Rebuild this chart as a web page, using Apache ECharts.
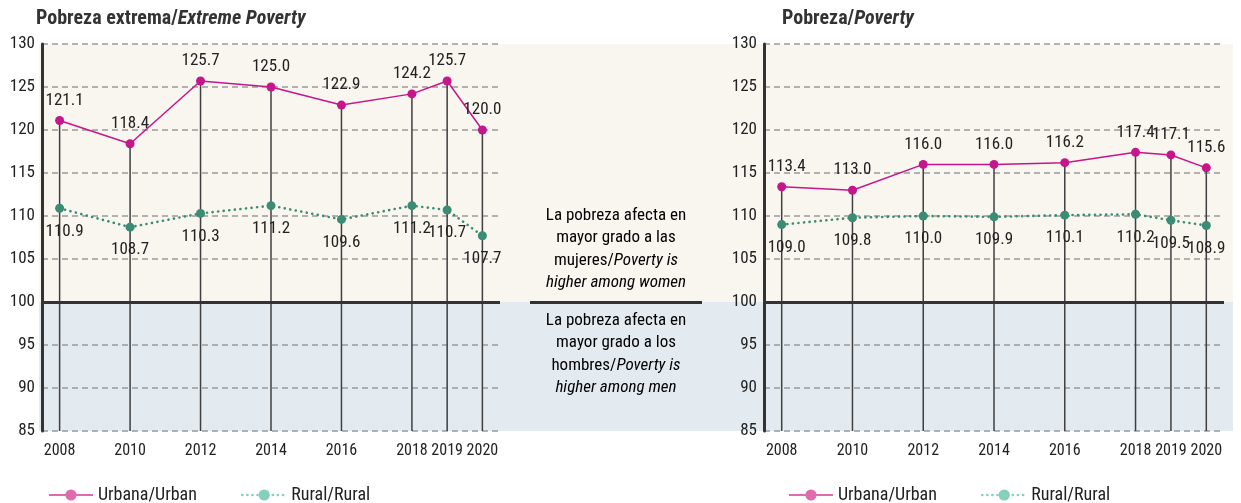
<!DOCTYPE html>
<html>
<head>
<meta charset="utf-8">
<script src="https://cdn.jsdelivr.net/npm/echarts@6/dist/echarts.min.js"></script>
<style>
  html, body { margin: 0; padding: 0; background: #fff; }
  #chart { width: 1241px; height: 503px; }
</style>
</head>
<body>
<div id="chart"></div>
<script>
// values
const years = [2008, 2010, 2012, 2014, 2016, 2018, 2019, 2020];
const extremeUrban = [121.1, 118.4, 125.7, 125.0, 122.9, 124.2, 125.7, 120.0];
const extremeRural = [110.9, 108.7, 110.3, 111.2, 109.6, 111.2, 110.7, 107.7];
const povertyUrban = [113.4, 113.0, 116.0, 116.0, 116.2, 117.4, 117.1, 115.6];
const povertyRural = [109.0, 109.8, 110.0, 109.9, 110.1, 110.2, 109.5, 108.9];
const yMin = 85, yMax = 130, yStep = 5;

const FONT = "'Liberation Sans Narrow', 'Roboto Condensed', 'Arial Narrow', Roboto, sans-serif";
const URBAN = '#C5168C';
const RURAL = '#3B8C74';

const chart = echarts.init(document.getElementById('chart'), null, { renderer: 'canvas' });

// first label sits a little to the right so it clears the y axis
const pairs = (ys) => years.map((y, i) => (i === 0 ? { value: [y, ys[i]], label: { offset: [5, 0] } } : [y, ys[i]]));

function xAxisFor(gridIndex) {
  return {
    type: 'value', gridIndex, min: 2007.5, max: 2020.5,
    axisLine: { show: false }, axisTick: { show: false }, splitLine: { show: false },
    axisLabel: { customValues: years, formatter: (v) => String(v),
      fontFamily: FONT, fontSize: 16, color: '#222', margin: 12 }
  };
}

function yAxisFor(gridIndex) {
  return {
    type: 'value', gridIndex, min: yMin, max: yMax, interval: yStep,
    axisLine: { show: true, lineStyle: { color: '#333', width: 3 } },
    axisTick: { show: false },
    axisLabel: { fontFamily: FONT, fontSize: 17, color: '#222', margin: 7 },
    splitLine: { show: true, lineStyle: { color: '#9a9a9a', width: 1.5, type: [6, 4] } }
  };
}

function seriesFor(idx, urban, rural) {
  return [
    {
      type: 'custom', xAxisIndex: idx, yAxisIndex: idx, z: 1, silent: true,
      data: years.map((y, i) => [y, urban[i]]),
      renderItem: (params, api) => {
        const top = api.coord([api.value(0), api.value(1)]);
        const bottom = api.coord([api.value(0), yMin]);
        return {
          type: 'line',
          shape: { x1: top[0], y1: top[1], x2: bottom[0], y2: bottom[1] },
          style: { stroke: '#3f3f3f', lineWidth: 1.5 }
        };
      }
    },
    {
      name: 'Urbana/Urban', type: 'line', xAxisIndex: idx, yAxisIndex: idx, z: 3,
      data: pairs(urban),
      symbol: 'circle', symbolSize: 9,
      itemStyle: { color: URBAN },
      lineStyle: { color: URBAN, width: 1.5 },
      label: { show: true, position: 'top', distance: 7, formatter: (p) => p.value[1].toFixed(1),
        fontFamily: FONT, fontSize: 17, color: '#222' },
      markLine: {
        silent: true, symbol: 'none', label: { show: false },
        lineStyle: { color: '#333', width: 3, type: 'solid' },
        data: [{ yAxis: 100 }]
      }
    },
    {
      name: 'Rural/Rural', type: 'line', xAxisIndex: idx, yAxisIndex: idx, z: 3,
      data: pairs(rural),
      symbol: 'circle', symbolSize: 9,
      itemStyle: { color: RURAL },
      lineStyle: { color: RURAL, width: 2.6, type: [0.1, 5.5], cap: 'round' },
      label: { show: true, position: 'bottom', distance: 10, formatter: (p) => p.value[1].toFixed(1),
        fontFamily: FONT, fontSize: 17, color: '#222' }
    }
  ];
}

function legendFor(left) {
  return {
    left, top: 481, itemWidth: 44, itemHeight: 14, itemGap: 44,
    textStyle: { fontFamily: FONT, fontSize: 18, color: '#222' },
    data: [
      { name: 'Urbana/Urban', itemStyle: { color: '#E06AAE' }, lineStyle: { color: '#E06AAE', width: 2 } },
      { name: 'Rural/Rural', itemStyle: { color: '#86CFBA' },
        lineStyle: { color: '#86CFBA', width: 2.6, type: [0.1, 5], cap: 'round' } }
    ]
  };
}

const titleRich = {
  b: { fontFamily: FONT, fontSize: 20, fontWeight: 'bold', color: '#333' },
  bi: { fontFamily: FONT, fontSize: 20, fontWeight: 'bold', fontStyle: 'italic', color: '#333' }
};

chart.setOption({
  animation: false,
  title: [
    { left: 31, top: 4, text: '{b|Pobreza extrema/}{bi|Extreme Poverty}', textStyle: { rich: titleRich } },
    { left: 777, top: 4, text: '{b|Pobreza/}{bi|Poverty}', textStyle: { rich: titleRich } }
  ],
  legend: [legendFor(43), legendFor(783)],
  grid: [
    { left: 42, top: 44, width: 458, height: 387 },
    { left: 764, top: 44, width: 460, height: 387 }
  ],
  xAxis: [xAxisFor(0), xAxisFor(1)],
  yAxis: [yAxisFor(0), yAxisFor(1)],
  series: [...seriesFor(0, extremeUrban, extremeRural), ...seriesFor(1, povertyUrban, povertyRural)]
});

// background bands and the middle note, placed from the axis scales
const pTop = chart.convertToPixel({ gridIndex: 0 }, [2007.5, yMax]);
const pMid = chart.convertToPixel({ gridIndex: 0 }, [2007.5, 100]);
const pBot = chart.convertToPixel({ gridIndex: 0 }, [2007.5, yMin]);
const leftEdge = pTop[0] - 3;
const rightEdge = chart.convertToPixel({ gridIndex: 1 }, [2020.5, yMax])[0] + 9;
const leftEnd = chart.convertToPixel({ gridIndex: 0 }, [2020.5, 100])[0];
const rightStart = chart.convertToPixel({ gridIndex: 1 }, [2007.5, 100])[0];
const noteX = (leftEnd + rightStart) / 2 - 16;
const midY = Math.round(pMid[1]) + 0.5;

const noteRich = {
  n: { fontFamily: FONT, fontSize: 17, color: '#555', lineHeight: 22.5 },
  i: { fontFamily: FONT, fontSize: 17, color: '#555', fontStyle: 'italic', lineHeight: 22.5 }
};

chart.setOption({
  graphic: [
    { type: 'rect', z: -10, silent: true,
      shape: { x: leftEdge, y: pTop[1], width: rightEdge - leftEdge, height: pMid[1] - pTop[1] },
      style: { fill: '#F9F5EF' } },
    { type: 'rect', z: -10, silent: true,
      shape: { x: leftEdge, y: pMid[1], width: rightEdge - leftEdge, height: pBot[1] - pMid[1] },
      style: { fill: '#E4EBF0' } },
    { type: 'line', z: 5, silent: true,
      shape: { x1: noteX - 86, y1: midY, x2: noteX + 86, y2: midY },
      style: { stroke: '#333', lineWidth: 3 } },
    { type: 'text', z: 5, silent: true, x: noteX, y: pMid[1] - 8,
      style: {
        text: '{n|La pobreza afecta en}\n{n|mayor grado a las}\n{n|mujeres/}{i|Poverty is}\n{i|higher among women}',
        rich: noteRich, align: 'center', verticalAlign: 'bottom'
      } },
    { type: 'text', z: 5, silent: true, x: noteX, y: pMid[1] + 7,
      style: {
        text: '{n|La pobreza afecta en}\n{n|mayor grado a los}\n{n|hombres/}{i|Poverty is}\n{i|higher among men}',
        rich: noteRich, align: 'center', verticalAlign: 'top'
      } }
  ]
});
</script>
</body>
</html>
